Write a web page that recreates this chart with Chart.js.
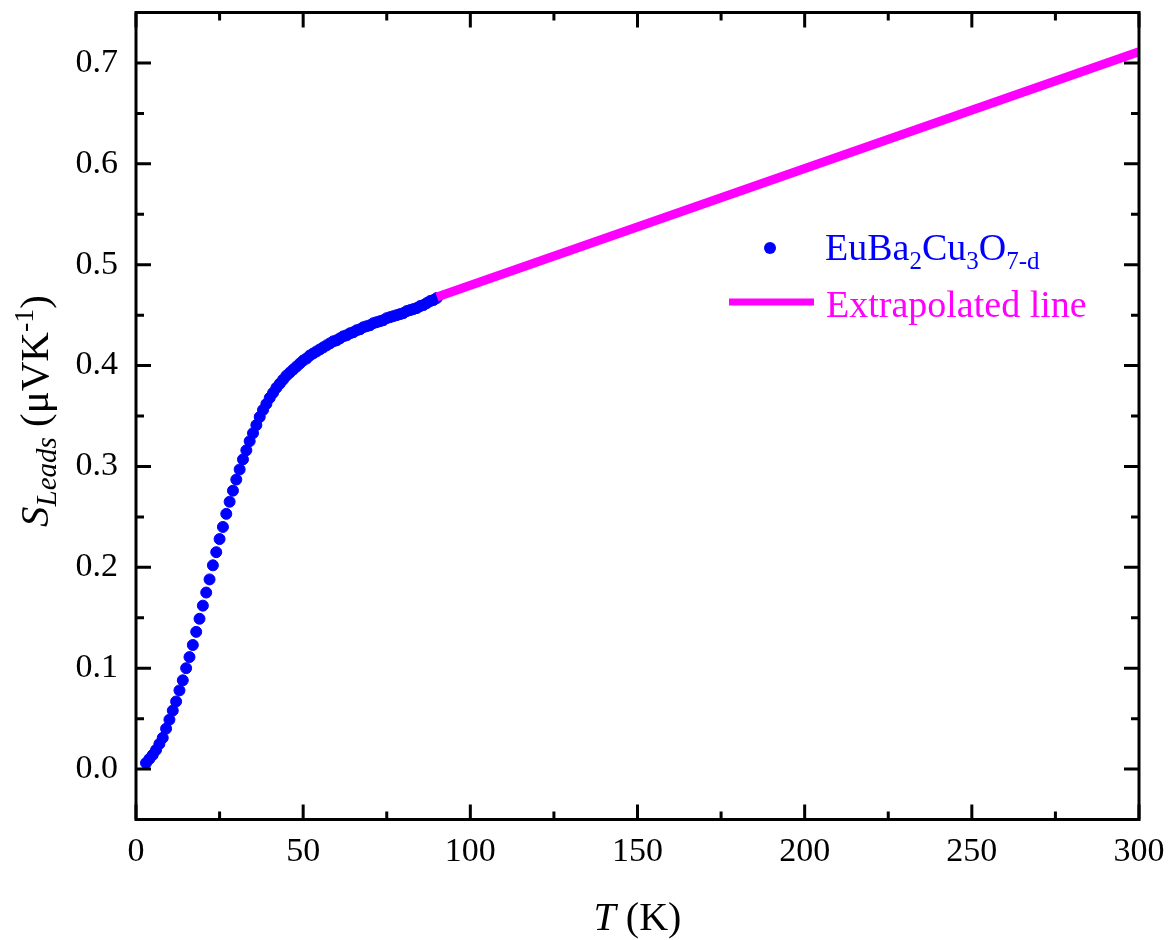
<!DOCTYPE html>
<html><head><meta charset="utf-8">
<script src="https://cdn.jsdelivr.net/npm/chart.js@4/dist/chart.umd.min.js"></script>
<style>html,body{margin:0;padding:0;background:#fff;}#wrap{width:1175px;height:940px;}</style>
</head><body><div id="wrap"><canvas id="c" width="1175" height="940"></canvas></div>
<script>
// ---- data ----
const temperatureK = [3,4,5,6,7,8,9,10,11,12,13,14,15,16,17,18,19,20,21,22,23,24,25,26,27,28,29,30,31,32,33,34,35,36,37,38,39,40,41,42,43,44,45,46,47,48,49,50,51,52,53,54,55,56,57,58,59,60,61,62,63,64,65,66,67,68,69,70,71,72,73,74,75,76,77,78,79,80,81,82,83,84,85,86,87,88,89,90];
const seebeckLeads = [0.006,0.010,0.014,0.019,0.025,0.031,0.040,0.049,0.058,0.067,0.078,0.088,0.100,0.111,0.123,0.136,0.149,0.162,0.175,0.188,0.202,0.215,0.228,0.240,0.253,0.265,0.276,0.287,0.297,0.307,0.316,0.325,0.333,0.341,0.349,0.356,0.362,0.368,0.373,0.378,0.382,0.386,0.390,0.393,0.396,0.399,0.402,0.405,0.407,0.410,0.412,0.414,0.416,0.418,0.420,0.422,0.424,0.425,0.427,0.429,0.430,0.432,0.433,0.435,0.436,0.438,0.439,0.440,0.442,0.443,0.444,0.445,0.447,0.448,0.449,0.450,0.451,0.452,0.454,0.455,0.456,0.457,0.459,0.460,0.462,0.464,0.465,0.467];
const extrapT = [90, 300];
const extrapS = [0.468, 0.711];
const xTicks = [0,50,100,150,200,250,300];
const xMinorTicks = [25,75,125,175,225,275];
const yTicks = [0.0,0.1,0.2,0.3,0.4,0.5,0.6,0.7];
const yMinorTicks = [0.05,0.15,0.25,0.35,0.45,0.55,0.65];
const seriesNames = ['EuBa2Cu3O7-d','Extrapolated line'];

const SERIF = '"Liberation Serif", "Times New Roman", serif';
const BLUE = '#0000FF', MAG = '#FF00FF';

function drawRuns(ctx, runs, x, y, align) {
  let w = 0;
  runs.forEach(r => { ctx.font = r.font; r.w = ctx.measureText(r.t).width; w += r.w; });
  let cx = align === 'center' ? x - w/2 : x;
  runs.forEach(r => { ctx.font = r.font; ctx.fillText(r.t, cx, y + (r.dy||0)); cx += r.w; });
  return w;
}

const decor = {
  id: 'decor',
  afterDraw(chart) {
    const {ctx, chartArea: a, scales: {x, y}} = chart;
    ctx.save();
    ctx.strokeStyle = '#000';
    ctx.lineWidth = 3;
    ctx.lineCap = 'butt';
    ctx.beginPath();
    const tick = (vals, len) => {
      vals.forEach(v => {
        const px = x.getPixelForValue(v);
        ctx.moveTo(px, a.bottom); ctx.lineTo(px, a.bottom - len);
        ctx.moveTo(px, a.top); ctx.lineTo(px, a.top + len);
      });
    };
    const ytick = (vals, len) => {
      vals.forEach(v => {
        const py = y.getPixelForValue(v);
        ctx.moveTo(a.left, py); ctx.lineTo(a.left + len, py);
        ctx.moveTo(a.right, py); ctx.lineTo(a.right - len, py);
      });
    };
    tick(xTicks, 15); tick(xMinorTicks, 8);
    ytick(yTicks, 15); ytick(yMinorTicks, 8);
    ctx.stroke();
    ctx.strokeRect(a.left, a.top, a.right - a.left, a.bottom - a.top);

    // axis titles
    ctx.fillStyle = '#000';
    ctx.textBaseline = 'alphabetic';
    ctx.textAlign = 'left';
    drawRuns(ctx, [
      {t: 'T', font: 'italic 40px ' + SERIF},
      {t: ' (K)', font: '40px ' + SERIF}
    ], (a.left + a.right) / 2, 930, 'center');

    ctx.save();
    ctx.translate(48, 411);
    ctx.rotate(-Math.PI / 2);
    drawRuns(ctx, [
      {t: 'S', font: 'italic 41px ' + SERIF},
      {t: 'Leads', font: 'italic 29px ' + SERIF, dy: 8},
      {t: ' (\u03bcVK', font: '41px ' + SERIF},
      {t: '-1', font: '28px ' + SERIF, dy: -15},
      {t: ')', font: '41px ' + SERIF}
    ], 0, 0, 'center');
    ctx.restore();

    // legend
    ctx.fillStyle = BLUE;
    ctx.beginPath(); ctx.arc(770, 248, 6, 0, Math.PI * 2); ctx.fill();
    drawRuns(ctx, [
      {t: 'EuBa', font: '38px ' + SERIF},
      {t: '2', font: '25px ' + SERIF, dy: 9},
      {t: 'Cu', font: '38px ' + SERIF},
      {t: '3', font: '25px ' + SERIF, dy: 9},
      {t: 'O', font: '38px ' + SERIF},
      {t: '7-d', font: '25px ' + SERIF, dy: 9}
    ], 825, 260, 'left');
    ctx.strokeStyle = MAG; ctx.lineWidth = 7;
    ctx.beginPath(); ctx.moveTo(729, 302); ctx.lineTo(814, 302); ctx.stroke();
    ctx.fillStyle = MAG;
    ctx.font = '38px ' + SERIF;
    ctx.fillText(seriesNames[1], 826, 317);
    ctx.restore();
  }
};

new Chart(document.getElementById('c'), {
  type: 'scatter',
  data: {
    datasets: [
      {
        label: seriesNames[0],
        data: temperatureK.map((t, i) => ({x: t, y: seebeckLeads[i]})),
        backgroundColor: BLUE, borderColor: BLUE, borderWidth: 1,
        pointRadius: 5.5, pointHoverRadius: 5.5, showLine: false, order: 2
      },
      {
        label: seriesNames[1],
        type: 'line',
        data: extrapT.map((t, i) => ({x: t, y: extrapS[i]})),
        borderColor: MAG, backgroundColor: MAG, borderWidth: 9,
        pointRadius: 0, showLine: true, fill: false, order: 1
      }
    ]
  },
  options: {
    responsive: false,
    animation: false,
    devicePixelRatio: 1,
    layout: {padding: {top: 12.5, right: 36, left: 0, bottom: 0}},
    plugins: {legend: {display: false}, tooltip: {enabled: false}},
    events: [],
    scales: {
      x: {
        type: 'linear', min: 0, max: 300,
        grid: {display: false, drawTicks: false},
        border: {display: false},
        afterBuildTicks: s => { s.ticks = xTicks.map(v => ({value: v})); },
        afterFit: s => { s.height = 120.5; s.paddingLeft = 0; s.paddingRight = 0; },
        ticks: {color: '#000', font: {family: SERIF, size: 34}, padding: 12, maxRotation: 0,
                callback: v => String(v)}
      },
      y: {
        type: 'linear', min: -0.05, max: 0.75,
        grid: {display: false, drawTicks: false},
        border: {display: false},
        afterBuildTicks: s => { s.ticks = yTicks.map(v => ({value: v})); },
        afterFit: s => { s.width = 136; s.paddingTop = 0; s.paddingBottom = 0; },
        ticks: {color: '#000', font: {family: SERIF, size: 34}, padding: 18,
                callback: v => Number(v).toFixed(1)}
      }
    }
  },
  plugins: [decor]
});
</script></body></html>
